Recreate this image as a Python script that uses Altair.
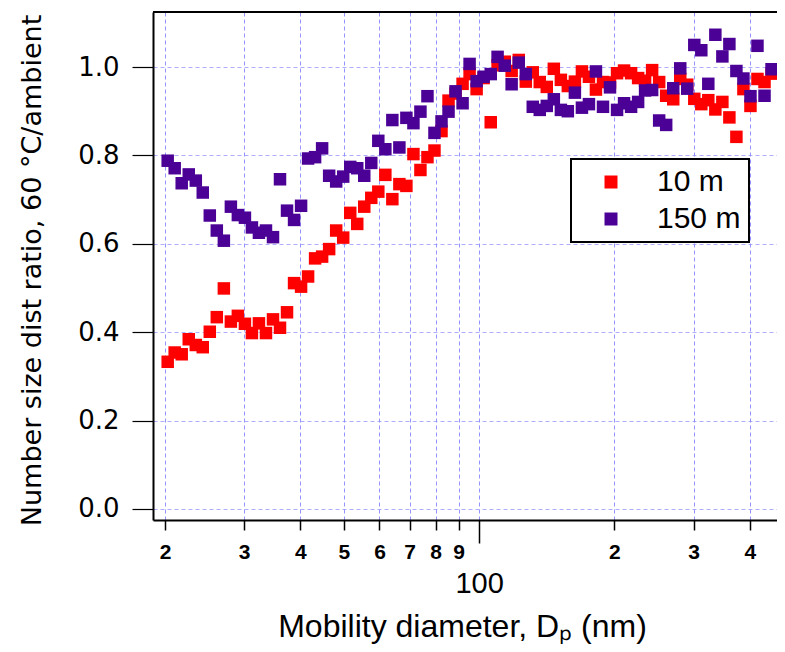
import altair as alt
import pandas as pd

# Mobility diameter of each SMPS channel (nm)
diameter_nm = [
    20.27, 21.01, 21.78, 22.58, 23.41, 24.26, 25.15, 26.07, 27.03, 28.02,
    29.04, 30.11, 31.21, 32.35, 33.54, 34.77, 36.04, 37.36, 38.73, 40.15,
    41.62, 43.14, 44.72, 46.36, 48.06, 49.82, 51.65, 53.54, 55.50, 57.53,
    59.64, 61.83, 64.09, 66.44, 68.87, 71.40, 74.01, 76.72, 79.53, 82.45,
    85.47, 88.60, 91.85, 95.21, 98.70, 102.3, 106.1, 109.9, 114.0, 118.1,
    122.5, 127.0, 131.6, 136.4, 141.4, 146.6, 152.0, 157.5, 163.3, 169.3,
    175.5, 181.9, 188.6, 195.5, 202.7, 210.1, 217.8, 225.8, 234.0, 242.6,
    251.5, 260.7, 270.3, 280.2, 290.4, 301.1, 312.1, 323.5, 335.4, 347.7,
    360.4, 373.6, 387.3, 401.5, 416.2, 431.5, 447.3,
]

ratio_10m = [
    0.333, 0.354, 0.350, 0.384, 0.371, 0.366, 0.401, 0.434, 0.499, 0.424,
    0.437, 0.419, 0.398, 0.420, 0.398, 0.429, 0.410, 0.445, 0.511, 0.503,
    0.526, 0.567, 0.571, 0.588, 0.630, 0.614, 0.670, 0.645, 0.684, 0.704,
    0.718, 0.756, 0.701, 0.735, 0.731, 0.803, 0.767, 0.796, 0.811, 0.855,
    0.924, 0.940, 0.962, 0.984, 0.950, 0.975, 0.875, 1.004, 1.012, 0.991,
    1.016, 0.967, 0.988, 0.966, 0.955, 0.996, 0.971, 0.957, 0.967, 0.990,
    0.978, 0.949, 0.966, 0.965, 0.986, 0.992, 0.986, 0.975, 0.969, 0.993,
    0.966, 0.935, 0.927, 0.973, 0.960, 0.928, 0.916, 0.925, 0.904, 0.921,
    0.886, 0.842, 0.950, 0.912, 0.973, 0.966, 0.985,
]

ratio_150m = [
    0.788, 0.771, 0.737, 0.757, 0.743, 0.716, 0.664, 0.630, 0.607, 0.684,
    0.665, 0.659, 0.637, 0.625, 0.630, 0.615, 0.746, 0.675, 0.654, 0.686,
    0.793, 0.796, 0.816, 0.754, 0.741, 0.752, 0.774, 0.771, 0.754, 0.783,
    0.833, 0.814, 0.880, 0.818, 0.885, 0.873, 0.899, 0.934, 0.851, 0.877,
    0.899, 0.945, 0.918, 1.007, 0.968, 0.978, 0.984, 1.023, 1.003, 0.961,
    1.010, 0.984, 0.910, 0.903, 0.912, 0.927, 0.903, 0.900, 0.942, 0.908,
    0.916, 0.990, 0.910, 0.954, 0.903, 0.918, 0.910, 0.921, 0.947, 0.948,
    0.879, 0.869, 0.952, 0.997, 0.951, 1.050, 1.038, 0.962, 1.073, 1.024,
    1.052, 0.991, 0.974, 0.934, 1.048, 0.935, 0.995,
]

series_names = ["10 m", "150 m"]
series_colors = ["#ff0000", "#4b0096"]
x_tick_values = [20, 30, 40, 50, 60, 70, 80, 90, 100, 200, 300, 400]
y_tick_values = [0.0, 0.2, 0.4, 0.6, 0.8, 1.0]
x_domain = [18.8, 460]
y_domain = [-0.025, 1.1245]

rows = []
for k, vals in enumerate([ratio_10m, ratio_150m]):
    for d, v in zip(diameter_nm, vals):
        rows.append({"Dp": d, "ratio": v, "series": series_names[k], "z": k})
df = pd.DataFrame(rows)

x_scale = alt.Scale(type="log", domain=x_domain, nice=False)
y_scale = alt.Scale(domain=y_domain, nice=False, zero=False)

is100 = "datum.value == 100"

x_axis = alt.Axis(
    values=x_tick_values,
    labelExpr="datum.value == 100 ? '100' : substring(toString(datum.value), 0, 1)",
    labelOverlap=False,
    labelFlush=False,
    labelFont="Liberation Sans",
    labelFontSize={"condition": {"test": is100, "value": 29}, "value": 21},
    labelFontWeight={"condition": {"test": is100, "value": "normal"}, "value": "bold"},
    labelPadding={"condition": {"test": is100, "value": 26}, "value": 11},
    labelColor="black",
    tickSize={"condition": {"test": is100, "value": 23}, "value": 10},
    tickColor="black",
    tickWidth=1.5,
    domainColor="black",
    domainWidth=2,
    grid=True,
    gridColor="#7070ff",
    gridOpacity=0.75,
    gridDash=[4, 3],
    gridWidth=1,
    title="Mobility diameter, Dₚ (nm)",
    titleFont="Liberation Sans",
    titleFontSize=32,
    titleFontWeight="normal",
    titleColor="black",
    titleX=309,
    titleY=116,
    titleAlign="center",
    titleBaseline="alphabetic",
)

y_axis = alt.Axis(
    values=y_tick_values,
    format=".1f",
    labelFont="DejaVu Sans",
    labelFontSize=26,
    labelColor="black",
    labelPadding=13,
    tickSize=21,
    tickColor="black",
    tickWidth=1.2,
    domainColor="black",
    domainWidth=2,
    grid=True,
    gridColor="#8c8cff",
    gridOpacity=0.7,
    gridDash=[4, 3],
    gridWidth=1,
    title="Number size dist ratio, 60 °C/ambient",
    titleFont="DejaVu Sans",
    titleFontSize=27,
    titleFontWeight="normal",
    titleColor="black",
    titleAngle=270,
    titleX=-113,
    titleY=258,
    titleAlign="center",
    titleBaseline="alphabetic",
)

legend = alt.Legend(
    title=None,
    orient="none",
    legendX=418,
    legendY=147,
    direction="vertical",
    fillColor="white",
    strokeColor="black",
    padding=8,
    symbolType="square",
    symbolSize=169,
    symbolStrokeWidth=0,
    symbolOpacity=1,
    symbolOffset=17,
    labelFont="Liberation Sans",
    labelFontSize=30,
    labelColor="black",
    labelOffset=31,
    rowPadding=7,
)

points = alt.Chart(df).mark_square(size=156, opacity=1).encode(
    x=alt.X("Dp:Q", scale=x_scale, axis=x_axis),
    y=alt.Y("ratio:Q", scale=y_scale, axis=y_axis),
    color=alt.Color("series:N", scale=alt.Scale(domain=series_names, range=series_colors), legend=legend),
    order=alt.Order("z:Q"),
)

top_frame = alt.Chart(pd.DataFrame({"ratio": [y_domain[1]]})).mark_rule(
    color="black", strokeWidth=2
).encode(y=alt.Y("ratio:Q", scale=y_scale, axis=y_axis))

chart = alt.layer(points, top_frame).properties(
    width=624,
    height=508,
    autosize=alt.AutoSizeParams(type="none"),
    padding={"left": 145, "top": 4, "right": 0, "bottom": 124},
    background="white",
).configure_view(stroke="transparent").configure_legend(strokeWidth=2)

chart.save("out.html", embed_options={"renderer": "svg", "actions": False})
